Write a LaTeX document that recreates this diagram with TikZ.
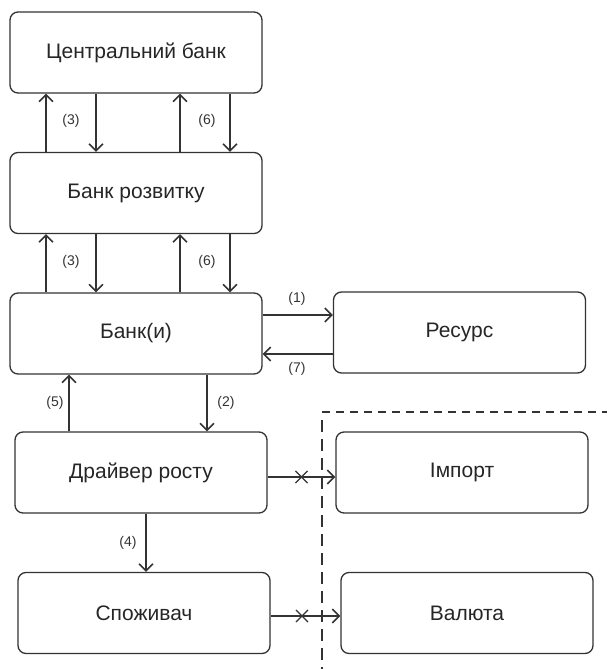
\documentclass[tikz,border=0pt]{standalone}
\usepackage{fontspec}
\setmainfont{Liberation Sans}
\usepackage{tikz}
\usetikzlibrary{calc}
\usetikzlibrary{arrows.meta}
\usetikzlibrary{shapes.misc}
\definecolor{lineGray}{rgb}{0.2, 0.2, 0.2}
\tikzset{
    box/.style={draw=lineGray, line width=1.3pt, rounded corners=8pt, text=black!85,
                minimum width=252pt, minimum height=81pt, font=\fontsize{21}{24}\selectfont},
    flow/.style={draw=lineGray, line width=1.2pt, -{Straight Barb[length=7pt,width=14pt,line width=1.5pt]}},
    heavy/.style={flow, line width=2.2pt},
    num/.style={font=\fontsize{14}{16}\selectfont, text=black!80},
    crossmark/.style={cross out, draw=lineGray, line width=1.1pt, minimum size=11pt, inner sep=0pt}
}

\begin{document}
\begin{tikzpicture}[x=1pt,y=-1pt]
        \useasboundingbox (0,0) rectangle (607,669);

        \node[box] (central)  at (136, 52.5) {Центральний банк};
        \node[box] (devbank)  at (136,193)   {Банк розвитку};
        \node[box] (banks)    at (136,333.5) {Банк(и)};
        \node[box] (driver)   at (141,472.5) {Драйвер росту};
        \node[box] (consumer) at (144,613)   {Споживач};
        \node[box] (resource) at (459.5,332.5) {Ресурс};
        \node[box] (import)   at (462,472.5) {Імпорт};
        \node[box] (currency) at (467,613)   {Валюта};

        \draw[flow]  ( 46,0 |- devbank.north) -- ( 46,0 |- central.south);
        \draw[flow]  ( 96,0 |- central.south) -- ( 96,0 |- devbank.north);
        \draw[heavy] (180,0 |- devbank.north) -- (180,0 |- central.south);
        \draw[flow]  (230,0 |- central.south) -- (230,0 |- devbank.north);
        \node[num] (n3a) at ( 71,121) {(3)};
        \node[num] (n6a) at (207,121) {(6)};

        \draw[flow]  ( 46,0 |- banks.north) -- ( 46,0 |- devbank.south);
        \draw[flow]  ( 96,0 |- devbank.south) -- ( 96,0 |- banks.north);
        \draw[heavy] (180,0 |- banks.north) -- (180,0 |- devbank.south);
        \draw[flow]  (230,0 |- devbank.south) -- (230,0 |- banks.north);
        \node[num] (n3b) at ( 71,262) {(3)};
        \node[num] (n6b) at (207,262) {(6)};

        \draw[flow] (banks.east |- 0,315) -- (resource.west |- 0,315);
        \draw[flow] (resource.west |- 0,354) -- (banks.east |- 0,354);
        \node[num] (n1) at (297,299) {(1)};
        \node[num] (n7) at (297,369) {(7)};

        \draw[heavy] ( 69,0 |- driver.north) -- ( 69,0 |- banks.south);
        \draw[flow]  (207,0 |- banks.south) -- (207,0 |- driver.north);
        \node[num] (n5) at ( 55,403) {(5)};
        \node[num] (n2) at (226,403) {(2)};

        \draw[flow] (146,0 |- driver.south) -- (146,0 |- consumer.north);
        \node[num] (n4) at (128,543) {(4)};

        \draw[flow] (driver.east |- 0,477) -- (import.west |- 0,477) coordinate[pos=0.5] (cutA);
        \draw[flow] (consumer.east |- 0,616) -- (currency.west |- 0,616) coordinate[pos=0.45] (cutB);
        \node[crossmark] (xa) at (cutA) {};
        \node[crossmark] (xb) at (cutB) {};

        \coordinate (corner) at (322,412);
        \draw[lineGray, line width=1.4pt, dash pattern=on 12pt off 7pt] (322,420) -- (322,669);
        \draw[lineGray, line width=1.2pt, dash pattern=on 8pt off 6pt] (corner) -- (607,412);
    \end{tikzpicture}
\end{document}
